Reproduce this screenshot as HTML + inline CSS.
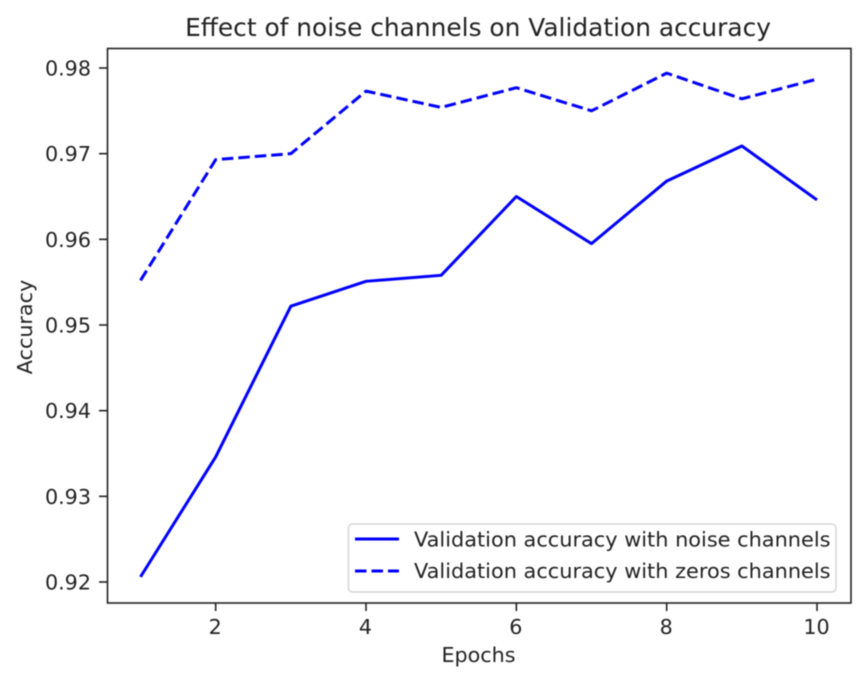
<!DOCTYPE html>
<html>
<head>
<meta charset="utf-8">
<title>Effect of noise channels on Validation accuracy</title>
<style>
html,body{margin:0;padding:0;background:#fff;width:857px;height:680px;overflow:hidden}
svg{display:block;filter:blur(0.45px)}
text{font-family:"DejaVu Sans","Liberation Sans",sans-serif;fill:#222}
</style>
</head>
<body>
<svg id="chart" width="857" height="680" viewBox="0 0 857 680" xmlns="http://www.w3.org/2000/svg">
  <rect x="0" y="0" width="857" height="680" fill="#fff"/>
  <text x="478" y="36" font-size="24.85" text-anchor="middle">Effect of noise channels on Validation accuracy</text>
  <text x="478.5" y="662" font-size="20.7" text-anchor="middle">Epochs</text>
  <text transform="translate(32 327) rotate(-90)" font-size="20.7" text-anchor="middle">Accuracy</text>
  <g id="ticks"></g>
  <g id="series"></g>
  <rect x="107.5" y="48.5" width="743.5" height="554.5" fill="none" stroke="#222" stroke-width="1.6"/>
  <g>
    <rect x="348.5" y="524" width="487.5" height="68" rx="4" fill="#fff" fill-opacity="0.8" stroke="#d6d6d6" stroke-width="1.5"/>
    <line x1="355" y1="539" x2="399" y2="539" stroke="#0000ff" stroke-width="3"/>
    <text x="414" y="546.5" font-size="20.85">Validation accuracy with noise channels</text>
    <line x1="355" y1="571" x2="399" y2="571" stroke="#0000ff" stroke-width="3" stroke-dasharray="11.5 5"/>
    <text x="414" y="578" font-size="20.85">Validation accuracy with zeros channels</text>
  </g>
</svg>
<script>
var epochs = [1, 2, 3, 4, 5, 6, 7, 8, 9, 10];
var noiseAccuracy = [0.9206, 0.9346, 0.9522, 0.9551, 0.9558, 0.9650, 0.9595, 0.9668, 0.9709, 0.9646];
var zerosAccuracy = [0.9552, 0.9693, 0.9700, 0.9773, 0.9754, 0.9777, 0.9750, 0.9794, 0.9764, 0.9787];
var xTickValues = [2, 4, 6, 8, 10];
var yTickValues = [0.92, 0.93, 0.94, 0.95, 0.96, 0.97, 0.98];

var NS = 'http://www.w3.org/2000/svg';
function xScale(v) { return 140.5 + (v - 1) * (817 - 140.5) / 9; }
function yScale(v) { return 582 - (v - 0.92) * (582 - 68) / 0.06; }

var tickGroup = document.getElementById('ticks');
var seriesGroup = document.getElementById('series');

function makeLine(x1, y1, x2, y2) {
  var l = document.createElementNS(NS, 'line');
  l.setAttribute('x1', x1);
  l.setAttribute('y1', y1);
  l.setAttribute('x2', x2);
  l.setAttribute('y2', y2);
  l.setAttribute('stroke', '#222');
  l.setAttribute('stroke-width', '1.6');
  return l;
}
function makeText(x, y, anchor, str) {
  var t = document.createElementNS(NS, 'text');
  t.setAttribute('x', x);
  t.setAttribute('y', y);
  t.setAttribute('font-size', '20.7');
  t.setAttribute('text-anchor', anchor);
  t.textContent = str;
  return t;
}

xTickValues.forEach(function (v) {
  var px = xScale(v);
  var mark = makeLine(px, 603, px, 611);
  
  
  tickGroup.appendChild(mark);
  var label = makeText(px - 0.5, 634, 'middle', String(v));
  
  
  tickGroup.appendChild(label);
});

yTickValues.forEach(function (v) {
  var py = yScale(v);
  var mark = makeLine(99, py, 107, py);
  
  
  tickGroup.appendChild(mark);
  var label = makeText(91, py + 7.5, 'end', v.toFixed(2));
  
  
  tickGroup.appendChild(label);
});

function buildPoints(values) {
  return values.map(function (v, i) {
    return xScale(epochs[i]).toFixed(2) + ',' + yScale(v).toFixed(2);
  }).join(' ');
}

var noiseLine = document.createElementNS(NS, 'polyline');
noiseLine.setAttribute('points', buildPoints(noiseAccuracy));
noiseLine.setAttribute('fill', 'none');
noiseLine.setAttribute('stroke', '#0000ff');
noiseLine.setAttribute('stroke-width', '3');
noiseLine.setAttribute('stroke-linejoin', 'round');


seriesGroup.appendChild(noiseLine);

var zerosLine = document.createElementNS(NS, 'polyline');
zerosLine.setAttribute('points', buildPoints(zerosAccuracy));
zerosLine.setAttribute('fill', 'none');
zerosLine.setAttribute('stroke', '#0000ff');
zerosLine.setAttribute('stroke-width', '3');
zerosLine.setAttribute('stroke-linejoin', 'round');
zerosLine.setAttribute('stroke-dasharray', '11.5 5');


seriesGroup.appendChild(zerosLine);
</script>
</body>
</html>
